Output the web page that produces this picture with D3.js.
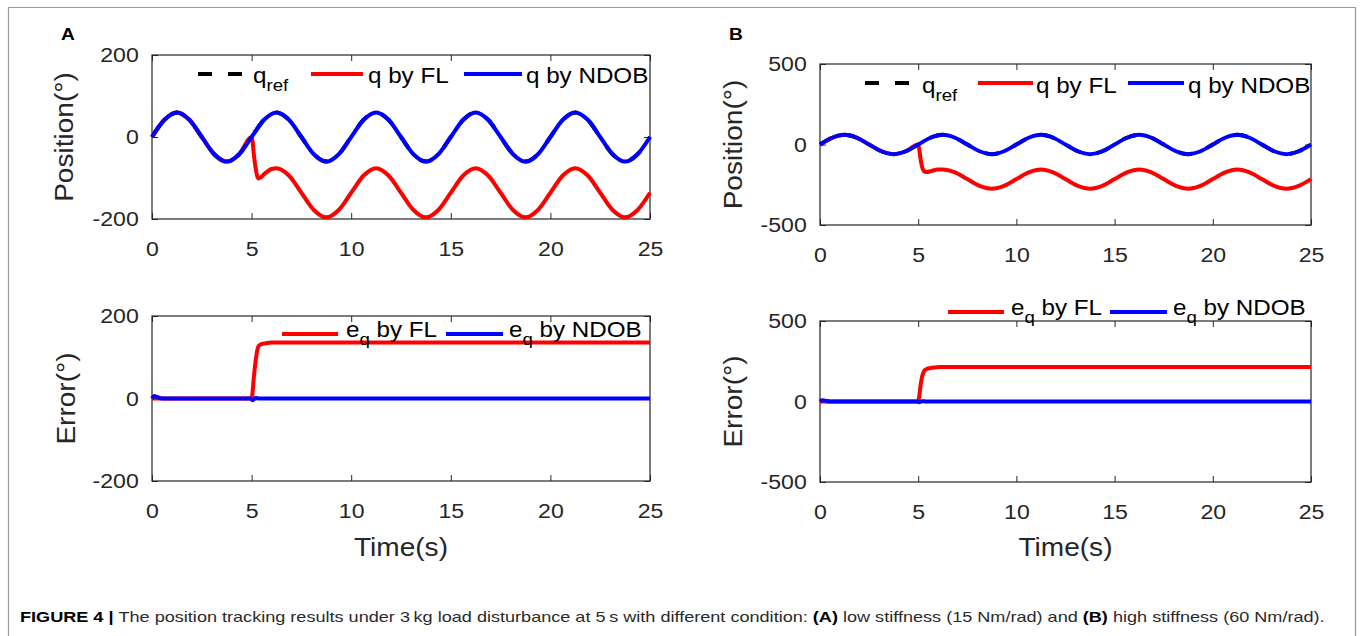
<!DOCTYPE html>
<html>
<head>
<meta charset="utf-8">
<script src="https://cdn.jsdelivr.net/npm/d3@7"></script>
<style>
  body { margin: 0; background: #fff; }
  svg { display: block; }
  text { font-family: "Liberation Sans", Arial, Helvetica, sans-serif; }
</style>
</head>
<body>
<svg id="fig" width="1362" height="636"></svg>
<script>
// ---- time samples (s) ----
const tGrid = [0, 0.625, 1.25, 1.875, 2.5, 3.125, 3.75, 4.375, 5, 5.625, 6.25, 6.875, 7.5, 8.125, 8.75, 9.375,
  10, 10.625, 11.25, 11.875, 12.5, 13.125, 13.75, 14.375, 15, 15.625, 16.25, 16.875, 17.5, 18.125, 18.75, 19.375,
  20, 20.625, 21.25, 21.875, 22.5, 23.125, 23.75, 24.375, 25];
const tFl = [0, 0.625, 1.25, 1.875, 2.5, 3.125, 3.75, 4.375, 5,
  5.05, 5.1, 5.2, 5.3, 5.34, 5.45, 5.625, 5.8, 6,
  6.25, 6.875, 7.5, 8.125, 8.75, 9.375, 10, 10.625, 11.25, 11.875, 12.5, 13.125, 13.75, 14.375,
  15, 15.625, 16.25, 16.875, 17.5, 18.125, 18.75, 19.375, 20, 20.625, 21.25, 21.875, 22.5, 23.125, 23.75, 24.375, 25];
const tErrFl = [0, 5, 5.05, 5.1, 5.2, 5.3, 5.34, 5.45, 5.625, 5.8, 6, 6.25, 25];
const tErrNdob = [0, 0.1, 0.25, 0.5, 4.95, 5.05, 5.2, 5.4, 25];

// ---- reference trajectory (deg) ----
const qRef = [0, 42, 60, 42, 0, -42, -60, -42, 0, 42, 60, 42, 0, -42, -60, -42, 0, 42, 60, 42, 0,
  -42, -60, -42, 0, 42, 60, 42, 0, -42, -60, -42, 0, 42, 60, 42, 0, -42, -60, -42, 0];

// ---- (A) low stiffness ----
const qNdobA = [0, 42, 60, 42, 0, -42, -60, -42, 0, 42, 60, 42, 0, -42, -60, -42, 0, 42, 60, 42, 0,
  -42, -60, -42, 0, 42, 60, 42, 0, -42, -60, -42, 0, 42, 60, 42, 0, -42, -60, -42, 0];
const qFlA = [0, 42, 60, 42, 0, -42, -60, -42, 0,
  -11, -37, -75, -98, -101, -99, -91, -84, -78,
  -76, -94, -136, -178, -196, -178, -136, -94, -76, -94, -136, -178, -196, -178,
  -136, -94, -76, -94, -136, -178, -196, -178, -136, -94, -76, -94, -136, -178, -196, -178, -136];
const errFlA = [0, 0, 15, 45, 90, 120, 126, 131, 133, 134.5, 135.5, 136, 136];
const errNdobA = [0, 6, 4, 0, 0, -4, 1, 0, 0];

// ---- (B) high stiffness ----
const qNdobB = [0, 42, 60, 42, 0, -42, -60, -42, 0, 42, 60, 42, 0, -42, -60, -42, 0, 42, 60, 42, 0,
  -42, -60, -42, 0, 42, 60, 42, 0, -42, -60, -42, 0, 42, 60, 42, 0, -42, -60, -42, 0];
const qFlB = [0, 42, 60, 42, 0, -42, -60, -42, 0,
  -26, -72, -140, -166, -170, -171, -166, -160, -156,
  -155, -173, -215, -257, -275, -257, -215, -173, -155, -173, -215, -257, -275, -257,
  -215, -173, -155, -173, -215, -257, -275, -257, -215, -173, -155, -173, -215, -257, -275, -257, -215];
const errFlB = [0, 0, 30, 80, 155, 188, 195, 203, 208, 211, 213, 215, 215];
const errNdobB = [0, 8, 5, 0, 0, -5, 2, 0, 0];

// ---- ticks and labels ----
const xTicks = [0, 5, 10, 15, 20, 25];
const yTicksA = [-200, 0, 200];
const yTicksB = [-500, 0, 500];
const posNames = [["q", "ref", ""], ["q by FL"], ["q by NDOB"]];
const errNames = [["e", "q", " by FL"], ["e", "q", " by NDOB"]];
const panelLetters = ["A", "B"];

const RED = "#ff0000", BLUE = "#0000ff", BLACK = "#000000", AXIS = "#262626";
const FONT = '"Liberation Sans", Arial, Helvetica, sans-serif';
const STRETCH = 1.1;

const svg = d3.select("#fig");

// outer frame
svg.append("path")
  .attr("d", "M8.5,636 V7.5 H1355.5 V636")
  .attr("fill", "none").attr("stroke", "#9a9a9a").attr("stroke-width", 1.2);

function pairs(t, v) { return t.map((d, i) => [d, v[i]]); }

function drawPanel(cfg) {
  const g = svg.append("g");
  const x = d3.scaleLinear().domain([0, 25]).range([cfg.x0, cfg.x1]);
  const y = d3.scaleLinear().domain(cfg.dom).range([cfg.y1, cfg.y0]);

  const styleAxis = (sel, cls) => {
    sel.select(".domain").remove();
    sel.attr("font-family", FONT).attr("font-size", 21);
    sel.selectAll(".tick line").attr("stroke", AXIS).attr("stroke-width", 1);
    sel.selectAll(".tick text").attr("fill", AXIS);
  };

  // ticks pointing inward on all four sides
  const gb = g.append("g").attr("transform", `translate(0,${cfg.y1})`)
    .call(d3.axisBottom(x).tickValues(xTicks).tickSizeInner(-6).tickSizeOuter(0).tickPadding(22).tickFormat(d => String(d)));
  styleAxis(gb);
  gb.selectAll(".tick text").attr("transform", `scale(${STRETCH},1)`);

  const gt = g.append("g").attr("transform", `translate(0,${cfg.y0})`)
    .call(d3.axisTop(x).tickValues(xTicks).tickSizeInner(-6).tickSizeOuter(0).tickFormat(() => ""));
  styleAxis(gt);

  const gl = g.append("g").attr("transform", `translate(${cfg.x0},0)`)
    .call(d3.axisLeft(y).tickValues(cfg.ticks).tickSizeInner(-6).tickSizeOuter(0).tickPadding(12).tickFormat(d => String(d)));
  styleAxis(gl);
  gl.selectAll(".tick text").attr("transform", `scale(${STRETCH},1)`);

  const gr = g.append("g").attr("transform", `translate(${cfg.x1},0)`)
    .call(d3.axisRight(y).tickValues(cfg.ticks).tickSizeInner(-6).tickSizeOuter(0).tickFormat(() => ""));
  styleAxis(gr);

  // box
  g.append("rect")
    .attr("x", cfg.x0).attr("y", cfg.y0)
    .attr("width", cfg.x1 - cfg.x0).attr("height", cfg.y1 - cfg.y0)
    .attr("fill", "none").attr("stroke", AXIS).attr("stroke-width", 1.2);

  // curves
  const line = d3.line().x(d => x(d[0])).y(d => y(d[1])).curve(d3.curveMonotoneX);
  cfg.series.forEach(s => {
    g.append("path")
      .datum(pairs(s.t, s.v))
      .attr("d", line)
      .attr("fill", "none")
      .attr("stroke", s.color)
      .attr("stroke-width", 4)
      .attr("stroke-linejoin", "round")
      .attr("stroke-dasharray", s.dash || null);
  });

  // legend
  const lg = cfg.legend;
  lg.items.forEach((it, i) => {
    const s = cfg.series[cfg.series.length - lg.items.length + i];
    g.append("line")
      .attr("x1", it.x0).attr("x2", it.x1)
      .attr("y1", lg.lineY).attr("y2", lg.lineY)
      .attr("stroke", s.color).attr("stroke-width", 4)
      .attr("stroke-dasharray", s.dash || null);
    const name = it.name;
    const t = g.append("text")
      .attr("transform", `translate(${it.tx},${lg.baseY}) scale(${STRETCH},1)`)
      .attr("font-size", 22).attr("fill", BLACK)
      .style("white-space", "pre");
    t.append("tspan").text(name[0]);
    if (name.length > 1) {
      t.append("tspan").attr("font-size", 17).attr("dy", 8).text(name[1]);
      if (name[2]) t.append("tspan").attr("dy", -8).text(name[2]);
    }
  });

  // y label
  g.append("text")
    .attr("transform", `translate(${cfg.labelX},${(cfg.y0 + cfg.y1) / 2}) rotate(-90) scale(${STRETCH},1)`)
    .attr("text-anchor", "middle").attr("dominant-baseline", "central")
    .attr("font-size", 25.5).attr("fill", AXIS)
    .text(cfg.ylabel);

  if (cfg.xlabel) {
    g.append("text")
      .attr("transform", `translate(${(cfg.x0 + cfg.x1) / 2},556) scale(${STRETCH},1)`)
      .attr("text-anchor", "middle")
      .attr("font-size", 25.5).attr("fill", AXIS)
      .text(cfg.xlabel);
  }
}

// (A) position
drawPanel({
  x0: 152, x1: 650, y0: 55, y1: 219, dom: [-200, 200], ticks: yTicksA,
  ylabel: "Position(\u00B0)", labelX: 64,
  series: [
    { t: tGrid, v: qRef, color: BLACK, dash: "14,16" },
    { t: tFl, v: qFlA, color: RED },
    { t: tGrid, v: qNdobA, color: BLUE }
  ],
  legend: { lineY: 74, baseY: 83, items: [
    { x0: 198, x1: 245, tx: 253, name: posNames[0] },
    { x0: 311, x1: 363, tx: 368, name: posNames[1] },
    { x0: 464, x1: 522, tx: 526, name: posNames[2] }
  ] }
});

// (A) error
drawPanel({
  x0: 152, x1: 650, y0: 316, y1: 481, dom: [-200, 200], ticks: yTicksA,
  ylabel: "Error(\u00B0)", labelX: 66, xlabel: "Time(s)",
  series: [
    { t: tErrFl, v: errFlA, color: RED },
    { t: tErrNdob, v: errNdobA, color: BLUE }
  ],
  legend: { lineY: 334, baseY: 337, items: [
    { x0: 282, x1: 338, tx: 346, name: errNames[0] },
    { x0: 446, x1: 503, tx: 509, name: errNames[1] }
  ] }
});

// (B) position
drawPanel({
  x0: 820, x1: 1311, y0: 64, y1: 225, dom: [-500, 500], ticks: yTicksB,
  ylabel: "Position(\u00B0)", labelX: 733,
  series: [
    { t: tGrid, v: qRef, color: BLACK, dash: "14,16" },
    { t: tFl, v: qFlB, color: RED },
    { t: tGrid, v: qNdobB, color: BLUE }
  ],
  legend: { lineY: 83, baseY: 93, items: [
    { x0: 865, x1: 912, tx: 922, name: posNames[0] },
    { x0: 978, x1: 1033, tx: 1036, name: posNames[1] },
    { x0: 1128, x1: 1184, tx: 1188, name: posNames[2] }
  ] }
});

// (B) error
drawPanel({
  x0: 820, x1: 1311, y0: 321, y1: 482, dom: [-500, 500], ticks: yTicksB,
  ylabel: "Error(\u00B0)", labelX: 733, xlabel: "Time(s)",
  series: [
    { t: tErrFl, v: errFlB, color: RED },
    { t: tErrNdob, v: errNdobB, color: BLUE }
  ],
  legend: { lineY: 312, baseY: 315, items: [
    { x0: 948, x1: 1004, tx: 1011, name: errNames[0] },
    { x0: 1110, x1: 1167, tx: 1173, name: errNames[1] }
  ] }
});

// panel letters
[[61, 40], [729, 40]].forEach((p, i) => {
  svg.append("text")
    .attr("transform", `translate(${p[0]},${p[1]}) scale(1.2,1)`)
    .attr("font-size", 16).attr("font-weight", "bold").attr("fill", BLACK)
    .text(panelLetters[i]);
});

// caption
const cap = svg.append("text").attr("font-size", 15).attr("fill", "#2a2a2a").style("white-space", "pre");
[
  ["FIGURE 4 | ", true],
  ["The position tracking results under 3\u2009kg load disturbance at 5\u2009s with different condition: ", false],
  ["(A)", true],
  [" low stiffness (15 Nm/rad) and ", false],
  ["(B)", true],
  [" high stiffness (60 Nm/rad).", false]
].forEach(([txt, bold]) => {
  cap.append("tspan").attr("font-weight", bold ? "bold" : null).attr("fill", bold ? "#000" : null).text(txt);
});
const capW = cap.node().getComputedTextLength();
cap.attr("transform", `translate(20,621.5) scale(${1305 / capW},1)`);
</script>
</body>
</html>
